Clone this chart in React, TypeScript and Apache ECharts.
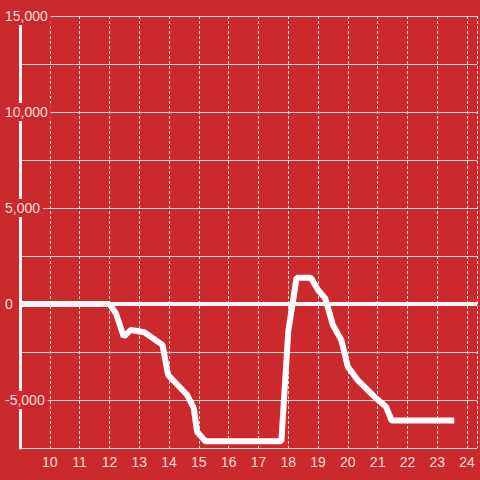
import React, { useEffect, useRef } from "react";
import * as echarts from "echarts";

const hours = [9, 12.0, 12.22, 12.48, 12.72, 13.17, 13.78, 13.97, 14.61, 14.83, 14.94, 15.22, 17.77, 18.0, 18.28, 18.76, 19.0, 19.24, 19.5, 19.78, 20.0, 20.33, 20.89, 21.28, 21.47, 23.57];
const values = [0, 0, -490, -1700, -1350, -1470, -2130, -3700, -4740, -5420, -6650, -7150, -7150, -1440, 1370, 1370, 730, 295, -1100, -1875, -3270, -3960, -4830, -5350, -6070, -6070];
const yTickLabels = [15000, 10000, 5000, 0, -5000];
const xTickLabels = [10, 11, 12, 13, 14, 15, 16, 17, 18, 19, 20, 21, 22, 23, 24];

const BG = "#cc292e";
const TEXT = "rgba(255,255,255,0.86)";

export default function App() {
  const ref = useRef<HTMLDivElement>(null);
  useEffect(() => {
    if (!ref.current) return;
    const chart = echarts.init(ref.current, undefined, { renderer: "svg" });
    const data = hours.map((h, i) => [h, values[i]]);
    chart.setOption({
      animation: false,
      backgroundColor: BG,
      grid: { left: 20, right: 0, top: 16, bottom: 32, containLabel: false },
      xAxis: {
        type: "value",
        min: 9,
        max: 24 + 1 / 3,
        interval: 1,
        axisLine: { show: true, lineStyle: { color: "#d9d9d9", width: 1 } },
        axisTick: { show: false },
        axisLabel: {
          color: TEXT,
          fontSize: 14,
          fontFamily: "Liberation Sans",
          margin: 7,
          formatter: (v: number) => (xTickLabels.includes(v) ? String(v) : ""),
        },
        splitLine: {
          show: true,
          lineStyle: { color: "#e8e8e8", width: 1, type: [3, 2] },
        },
      },
      yAxis: [
        {
          type: "value",
          min: -7500,
          max: 15000,
          interval: 2500,
          axisLine: { show: true, lineStyle: { color: "#f2f2f2", width: 3 } },
          axisTick: { show: false },
          axisLabel: { show: false },
          splitLine: { show: true, lineStyle: { color: "#d9d9d9", width: 1 } },
        },
        {
          type: "value",
          position: "left",
          min: -7500,
          max: 15000,
          interval: 2500,
          z: 5,
          axisLine: { show: false },
          axisTick: { show: false },
          splitLine: { show: false },
          axisLabel: {
            align: "left",
            margin: 16,
            formatter: (v: number) =>
              yTickLabels.includes(v) ? "{b|" + v.toLocaleString("en-US") + "}" : "",
            rich: {
              b: {
                color: TEXT,
                fontSize: 14,
                fontFamily: "Liberation Sans",
                backgroundColor: BG,
                padding: [2, 3, 2, 1],
              },
            },
          },
        },
      ],
      series: [
        {
          type: "line",
          data,
          yAxisIndex: 0,
          showSymbol: false,
          symbol: "none",
          lineStyle: { color: "#ffffff", width: 6 },
          z: 3,
          markLine: {
            silent: true,
            symbol: "none",
            label: { show: false },
            lineStyle: { color: "#f5f5f5", width: 4, type: "solid" },
            data: [{ yAxis: 0 }],
          },
        },
      ],
    });
    return () => chart.dispose();
  }, []);
  return (
    <div
      ref={ref}
      style={{ position: "fixed", left: 0, top: 0, width: 480, height: 480 }}
    />
  );
}
